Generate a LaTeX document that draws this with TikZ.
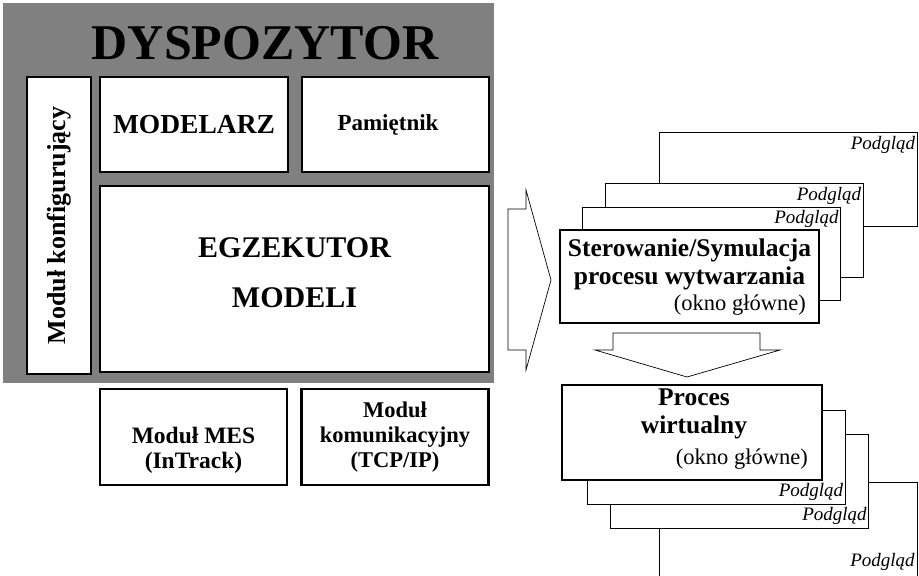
\documentclass[tikz,border=0pt]{standalone}
\usepackage{fontspec}
\setmainfont{Liberation Serif}

\begin{document}
\begin{tikzpicture}[x=1pt,y=-1pt,line join=miter,
    modbox/.style={draw,line width=2.4pt,fill=white,inner sep=0pt,align=center},
    win/.style={draw,line width=0.7pt,fill=white,minimum width=258pt,minimum height=94pt,inner sep=0pt},
    mainwin/.style={win,line width=2.4pt},
    podgl/.style={font=\itshape\fontsize{19}{19}\selectfont,inner sep=0pt},
    btxt/.style={font=\bfseries\fontsize{25.5}{28}\selectfont,align=center,inner sep=0pt},
    rtxt/.style={font=\fontsize{22.5}{22.5}\selectfont,inner sep=0pt},
    blockarrow/.style={draw,line width=0.7pt,fill=white}]
\useasboundingbox (0,0) rectangle (919,576);

% dyspozytor
\node[fill=black!50,minimum width=491pt,minimum height=380pt,inner sep=0pt] (disp) at (248.5,193) {};
\node[font=\bfseries\fontsize{50}{50}\selectfont,inner sep=0pt] (title) at (265,43) {DYSPOZYTOR};
\node[modbox,rotate=90,minimum width=297pt,minimum height=64pt,font=\bfseries\fontsize{26}{26}\selectfont] (konf) at (59,225.5) {Moduł konfigurujący};
\node[modbox,minimum width=188pt,minimum height=95pt,font=\bfseries\fontsize{27.5}{27.5}\selectfont] (modelarz) at (194,124.5) {MODELARZ};
\node[modbox,minimum width=187pt,minimum height=95pt] (pam) at (395.5,124.5) {};
\node[btxt,font=\bfseries\fontsize{23}{23}\selectfont] (pamtxt) at (388,124.5) {Pamiętnik};
\node[modbox,minimum width=389pt,minimum height=186pt] (egz) at (294.5,279) {};
\node[btxt,font=\bfseries\fontsize{30}{50}\selectfont] (egztxt) at (294.5,273) {EGZEKUTOR\\MODELI};

% moduly pod spodem
\node[modbox,minimum width=187pt,minimum height=96pt] (mes) at (193.5,437) {};
\node[btxt,font=\bfseries\fontsize{23.5}{25}\selectfont] (mestxt) at ([yshift=-13pt]mes.center) {Moduł MES\\(InTrack)};
\node[modbox,minimum width=187pt,minimum height=96pt,font=\bfseries\fontsize{22.5}{25}\selectfont] (kom) at (395,437) {Moduł\\komunikacyjny\\(TCP/IP)};

% strzalki
\draw[blockarrow] (508,209) -- (526,209) -- (526,190) -- (551,280) -- (526,370) -- (526,350) -- (508,350) -- cycle;
\draw[blockarrow] (613,333) -- (760,333) -- (760,350) -- (780,350) -- (687,377) -- (595,350) -- (613,350) -- cycle;

% okna sterowania
\node[win] (podC) at (788,179.5) {};
\node[podgl,anchor=north east] (podCl) at ([xshift=-2pt,yshift=-4pt]podC.north east) {Podgląd};
\node[win] (podB) at (734,230.5) {};
\node[podgl,anchor=north east] (podBl) at ([xshift=-2pt,yshift=-4pt]podB.north east) {Podgląd};
\node[win,minimum height=93pt] (podA) at (711.5,253.5) {};
\node[podgl,anchor=north east] (podAl) at ([xshift=-2pt,yshift=-3pt]podA.north east) {Podgląd};
\node[mainwin,minimum width=259pt,minimum height=93pt] (ster) at (689.5,276.5) {};
\node[btxt] (stertxt) at (689.5,264) {Sterowanie/Symulacja\\procesu wytwarzania};
\node[rtxt,anchor=east] (sterokno) at (806,305) {(okno główne)};

% okna procesu wirtualnego
\node[win] (podF) at (788.5,529) {};
\node[podgl,anchor=south east] (podFl) at ([xshift=-3pt,yshift=6pt]podF.south east) {Podgląd};
\node[win] (podE) at (739.5,481.5) {};
\node[podgl,anchor=south east] (podEl) at ([xshift=-2pt,yshift=4pt]podE.south east) {Podgląd};
\node[win] (podD) at (716,457.5) {};
\node[podgl,anchor=south east] (podDl) at ([xshift=-2pt,yshift=4pt]podD.south east) {Podgląd};
\node[mainwin,minimum width=260pt,minimum height=95pt] (proc) at (692,432.5) {};
\node[btxt] (proctxt) at (694,414) {Proces\\wirtualny};
\node[rtxt,anchor=east] (procokno) at (808,459) {(okno główne)};
\end{tikzpicture}
\end{document}
